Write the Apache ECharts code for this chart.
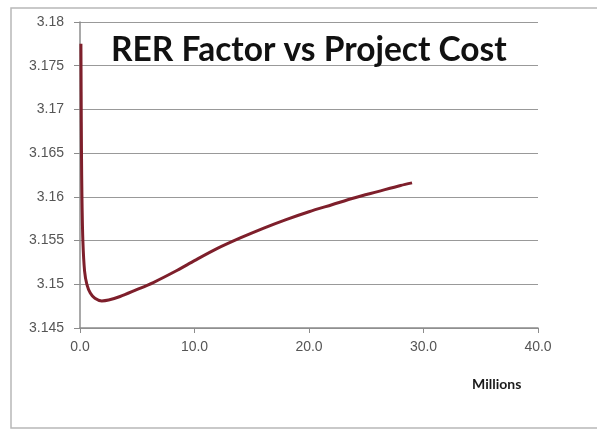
<!DOCTYPE html>
<html>
<head>
<meta charset="utf-8">
<script src="https://cdn.jsdelivr.net/npm/echarts@6/dist/echarts.min.js"></script>
<style>
  html, body { margin: 0; padding: 0; background: #fff; }
  #chart { width: 597px; height: 433px; }
</style>
</head>
<body>
<div id="chart"></div>
<script>
// project cost (millions) and RER factor
var costMillions = [0.08, 0.1, 0.13, 0.17, 0.25, 0.4, 0.6, 0.9, 1.3, 1.9, 2.5, 3.5, 4.8, 6.4, 8.5, 10.0, 12.0, 14.0, 16.0, 18.0, 20.0, 22.0, 24.0, 26.0, 28.0, 29.0];
var rerFactor    = [3.1775, 3.172, 3.165, 3.160, 3.155, 3.1515, 3.1500, 3.1490, 3.1484, 3.1481, 3.1482, 3.1486, 3.1493, 3.1502, 3.1516, 3.1527, 3.1541, 3.1553, 3.1564, 3.1574, 3.1583, 3.1591, 3.1599, 3.1606, 3.1613, 3.1616];
var yTicks = [3.145, 3.15, 3.155, 3.16, 3.165, 3.17, 3.175, 3.18];
var xTicks = [0, 10, 20, 30, 40];

var points = [];
for (var i = 0; i < costMillions.length; i++) {
    points.push([costMillions[i], rerFactor[i]]);
}

var chart = echarts.init(document.getElementById('chart'));
var option = {
    backgroundColor: '#fff',
    animation: false,
    graphic: [
        {   // outer frame of the chart area
            type: 'rect',
            shape: { x: 11, y: 8, width: 620, height: 420 },
            style: { fill: 'none', stroke: '#b8b8b8', lineWidth: 1.5 },
            z: -1
        },
        {
            type: 'text',
            left: 472,
            top: 377,
            style: {
                text: 'Millions',
                fill: '#1a1a1a',
                font: 'bold 14px Lato'
            }
        }
    ],
    title: {
        text: 'RER Factor vs Project Cost',
        left: 106,
        top: 28,
        textStyle: {
            color: '#111',
            fontFamily: 'Lato',
            fontWeight: 'bold',
            fontSize: 33.5
        }
    },
    grid: {
        left: 80,
        top: 22,
        right: 59,
        bottom: 105
    },
    xAxis: {
        type: 'value',
        min: xTicks[0],
        max: xTicks[xTicks.length - 1],
        interval: 10,
        axisLine: { lineStyle: { color: '#8c8c8c', width: 1.5 } },
        axisTick: { show: true, inside: false, length: 5, lineStyle: { color: '#8c8c8c' } },
        axisLabel: {
            color: '#555',
            fontFamily: 'Liberation Sans',
            fontSize: 14,
            margin: 12,
            formatter: function (v) { return v.toFixed(1); }
        },
        splitLine: { show: false }
    },
    yAxis: {
        type: 'value',
        min: yTicks[0],
        max: yTicks[yTicks.length - 1],
        interval: 0.005,
        axisLine: { show: true, lineStyle: { color: '#8c8c8c', width: 1.5 } },
        axisTick: { show: true, length: 6, lineStyle: { color: '#8c8c8c' } },
        axisLabel: {
            color: '#555',
            fontFamily: 'Liberation Sans',
            fontSize: 14,
            margin: 16,
            formatter: function (v) { return String(parseFloat(v.toFixed(3))); }
        },
        splitLine: { show: true, lineStyle: { color: '#999', width: 1 } }
    },
    series: [
        {
            type: 'line',
            data: points,
            smooth: 0.3,
            symbol: 'none',
            lineStyle: {
                color: '#7e1f2b',
                width: 3
            }
        }
    ]
};
chart.setOption(option, true);
</script>
</body>
</html>
